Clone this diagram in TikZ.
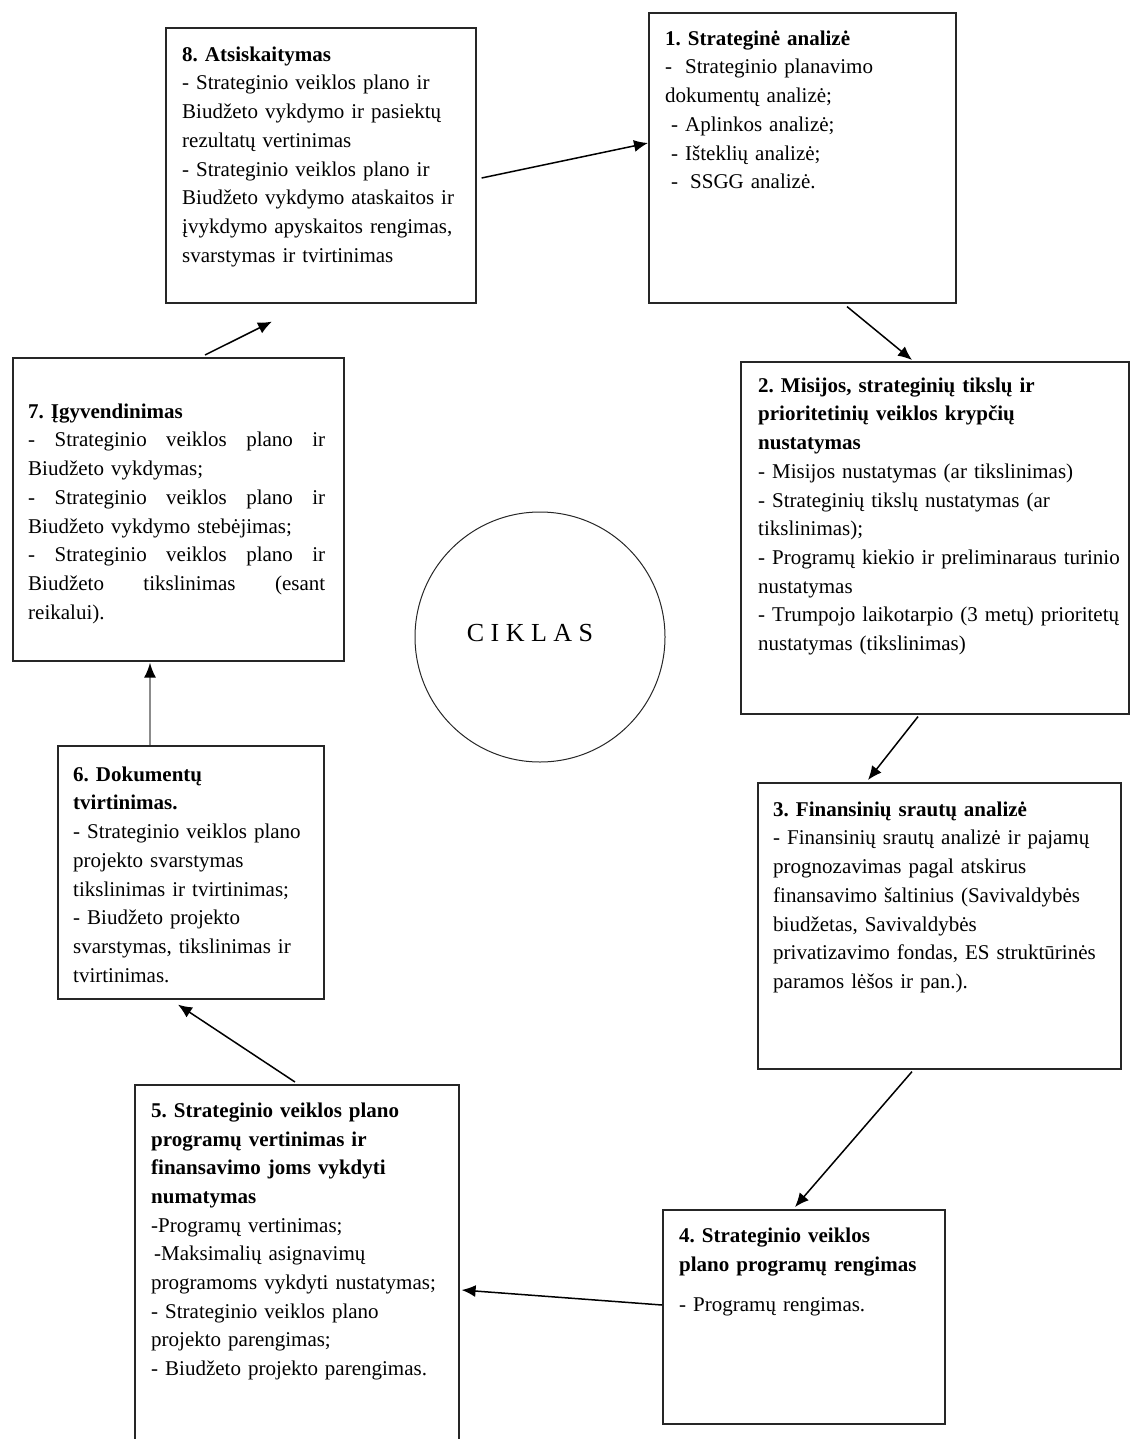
\documentclass[tikz,border=0pt]{standalone}
\usepackage{fontspec}
\setmainfont{Liberation Serif}
\usetikzlibrary{arrows.meta,calc}
\newcommand{\jline}[1]{\leavevmode\hbox to 297pt{#1}}
\begin{document}
\frenchspacing
\begin{tikzpicture}[x=1pt,y=-1pt,
  box/.style={draw=black!85, line width=1.6pt, rectangle, inner sep=0pt, anchor=north west},
  txt/.style={anchor=north west, inner sep=0pt, align=left, font=\fontsize{21}{28.7}\selectfont},
  arr/.style={line width=1.5pt, -{Latex[length=14pt,width=12pt]}},
  grayarr/.style={draw=black!45, line width=2pt, -{Latex[length=15pt,width=12pt,color=black,fill=black]}}]
\useasboundingbox (0,0) rectangle (1131,1439);
% boxes
\node[box, minimum width=310pt, minimum height=275pt] (b8) at (165,27) {};
\node[box, minimum width=307pt, minimum height=290pt] (b1) at (648,12) {};
\node[box, minimum width=388pt, minimum height=352pt] (b2) at (740,361) {};
\node[box, minimum width=331pt, minimum height=303pt] (b7) at (12,357) {};
\node[box, minimum width=266pt, minimum height=253pt] (b6) at (57,745) {};
\node[box, minimum width=363pt, minimum height=286pt] (b3) at (757,782) {};
\node[box, minimum width=324pt, minimum height=370pt] (b5) at (134,1084) {};
\node[box, minimum width=282pt, minimum height=214pt] (b4) at (662,1209) {};
\node[draw=black!85, circle, line width=1pt, minimum size=250pt, inner sep=0pt] (c) at (540,637) {};
\node[font=\fontsize{26}{30}\selectfont, inner sep=0pt] (ciklas) at (530,633) {C I K L A S};
% texts
\node[txt, text width=300pt] (t8) at (182,41) {\strut\textbf{8. Atsiskaitymas}\\
- Strateginio veiklos plano ir\\
Biudžeto vykdymo ir pasiektų\\
rezultatų vertinimas\\
- Strateginio veiklos plano ir\\
Biudžeto vykdymo ataskaitos ir\\
įvykdymo apyskaitos rengimas,\\
svarstymas ir tvirtinimas};
\node[txt, text width=300pt] (t1) at (665,25) {\strut\textbf{1. Strateginė analizė}\\
-\hspace{6pt} Strateginio planavimo\\
dokumentų analizė;\\
\hspace*{6pt}- Aplinkos analizė;\\
\hspace*{6pt}- Išteklių analizė;\\
\hspace*{6pt}-\hspace{5pt} SSGG analizė.};
\node[txt, text width=380pt] (t2) at (758,372) {\strut\textbf{2. Misijos, strateginių tikslų ir}\\
\textbf{prioritetinių veiklos krypčių}\\
\textbf{nustatymas}\\
- Misijos nustatymas (ar tikslinimas)\\
- Strateginių tikslų nustatymas (ar\\
tikslinimas);\\
- Programų kiekio ir preliminaraus turinio\\
nustatymas\\
- Trumpojo laikotarpio (3 metų) prioritetų\\
nustatymas (tikslinimas)};
\node[txt, text width=297pt] (t7) at (28,398) {\strut\textbf{7. Įgyvendinimas}\\
\jline{-\hfill Strateginio\hfill veiklos\hfill plano\hfill ir}\\
Biudžeto vykdymas;\\
\jline{-\hfill Strateginio\hfill veiklos\hfill plano\hfill ir}\\
Biudžeto vykdymo stebėjimas;\\
\jline{-\hfill Strateginio\hfill veiklos\hfill plano\hfill ir}\\
\jline{Biudžeto\hfill tikslinimas\hfill (esant}\\
reikalui).};
\node[txt, text width=260pt] (t6) at (73,761) {\strut\textbf{6. Dokumentų}\\
\textbf{tvirtinimas.}\\
- Strateginio veiklos plano\\
projekto svarstymas\\
tikslinimas ir tvirtinimas;\\
- Biudžeto projekto\\
svarstymas, tikslinimas ir\\
tvirtinimas.};
\node[txt, text width=360pt] (t3) at (773,796) {\strut\textbf{3. Finansinių srautų analizė}\\
- Finansinių srautų analizė ir pajamų\\
prognozavimas pagal atskirus\\
finansavimo šaltinius (Savivaldybės\\
biudžetas, Savivaldybės\\
privatizavimo fondas, ES struktūrinės\\
paramos lėšos ir pan.).};
\node[txt, text width=320pt] (t5) at (151,1097) {\strut\textbf{5. Strateginio veiklos plano}\\
\textbf{programų vertinimas ir}\\
\textbf{finansavimo joms vykdyti}\\
\textbf{numatymas}\\
-Programų vertinimas;\\
\hspace*{3pt}-Maksimalių asignavimų\\
programoms vykdyti nustatymas;\\
- Strateginio veiklos plano\\
projekto parengimas;\\
- Biudžeto projekto parengimas.};
\node[txt, text width=280pt] (t4) at (679,1222) {\strut\textbf{4. Strateginio veiklos}\\
\textbf{plano programų rengimas}\\[12pt]
- Programų rengimas.};
% connectors
\draw[arr] ($(b8.north east)+(5,151)$) -- ($(b1.north west)+(0,131)$);
\draw[arr] ($(b1.south west)+(199,3)$) -- ($(b2.north west)+(172,-1)$);
\draw[arr] ($(b2.south west)+(178,2)$) -- ($(b3.north west)+(111,-2)$);
\draw[arr] ($(b3.south west)+(155,2)$) -- ($(b4.north west)+(133,-2)$);
\draw[arr] ($(b4.north west)+(0,96)$) -- ($(b5.north east)+(2,206)$);
\draw[arr] ($(b5.north west)+(161,-2)$) -- ($(b6.south west)+(121,5)$);
\draw[grayarr] ($(b6.north west)+(93,0)$) -- ($(b7.south west)+(138,1)$);
\draw[arr] ($(b7.north west)+(193,-2)$) -- ($(b8.south west)+(107,18)$);
\end{tikzpicture}
\end{document}
